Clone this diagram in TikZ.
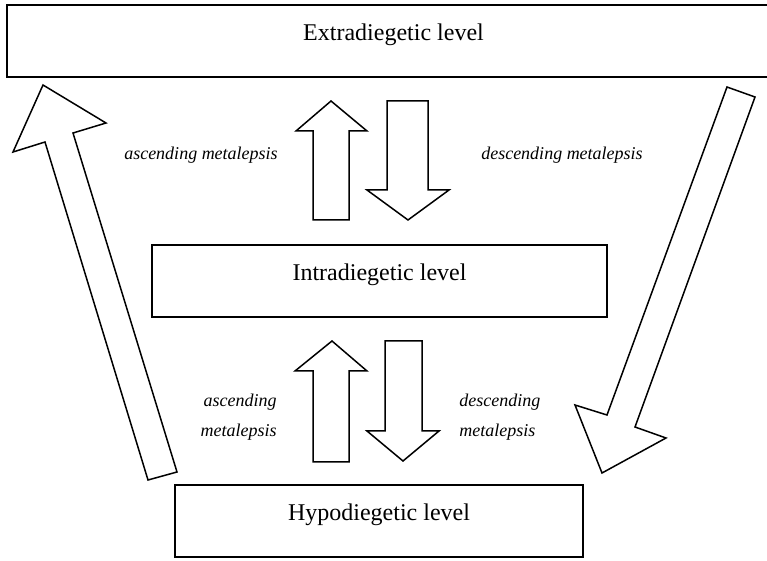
\documentclass[tikz,border=0pt]{standalone}
\usepackage{fontspec}
\setmainfont{Liberation Serif}
\begin{document}
\begin{tikzpicture}[x=0.5pt,y=-0.5pt,
  levelbox/.style={draw, line width=1pt, inner xsep=0pt, inner ysep=0pt,
    text height=18pt, text depth=18pt, font=\fontsize{12}{14}\selectfont},
  blockarrow/.style={draw, line width=0.75pt, line join=miter, fill=white},
  metalabel/.style={font=\fontsize{9}{15}\selectfont\itshape, inner sep=0pt}]
\useasboundingbox (0,0) rectangle (767,561);
% level boxes
\node[levelbox, minimum width=386.5pt] (extra) at (393.5,41) {Extradiegetic level};
\node[levelbox, minimum width=227.5pt] (intra) at (379.5,281) {Intradiegetic level};
\node[levelbox, minimum width=204pt] (hypo) at (379,521) {Hypodiegetic level};
% big ascending arrow (hypo -> extra)
\draw[blockarrow] (148,480) -- (177,472) -- (73,133) -- (106,123) -- (43,85)
  -- (13,152) -- (45,142) -- cycle;
% big descending arrow (extra -> hypo)
\draw[blockarrow] (727,87) -- (755,97) -- (635,427) -- (666,438) -- (602,473)
  -- (575,405) -- (607,415) -- cycle;
% top pair (intra <-> extra)
\draw[blockarrow] (313,220) -- (349,220) -- (349,131) -- (367,131) -- (331,101)
  -- (296,131) -- (313,131) -- cycle;
\draw[blockarrow] (387,101) -- (428,101) -- (428,190) -- (449,190) -- (408,220)
  -- (367,190) -- (387,190) -- cycle;
% bottom pair (hypo <-> intra)
\draw[blockarrow] (313,462) -- (349,462) -- (349,371) -- (367,371) -- (332,341)
  -- (295,371) -- (313,371) -- cycle;
\draw[blockarrow] (385,341) -- (422,341) -- (422,431) -- (439,431) -- (403,461)
  -- (367,431) -- (385,431) -- cycle;
% labels
\node[metalabel] (la1) at (201,155) {ascending metalepsis};
\node[metalabel] (la2) at (562,155) {descending metalepsis};
\node[metalabel, align=right, anchor=east] (la3) at (277,417) {ascending\\metalepsis};
\node[metalabel, align=left, anchor=west] (la4) at (459,417) {descending\\metalepsis};
\end{tikzpicture}
\end{document}
